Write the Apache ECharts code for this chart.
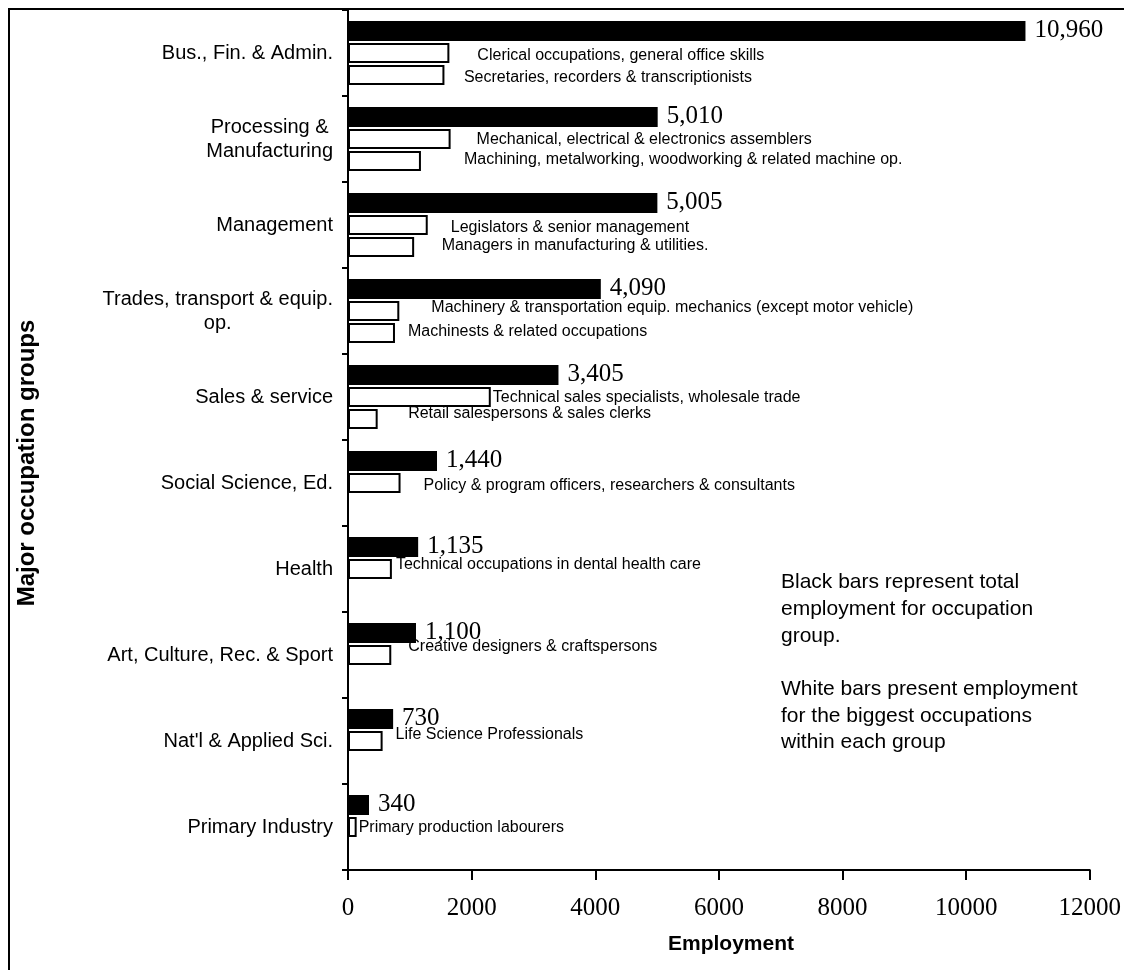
<!DOCTYPE html>
<html>
<head>
<meta charset="utf-8">
<title>Employment by major occupation group</title>
<script src="https://cdn.jsdelivr.net/npm/echarts@6/dist/echarts.min.js"></script>
<style>
  html, body { margin: 0; padding: 0; background: #fff; }
  #chart { width: 1124px; height: 970px; }
</style>
</head>
<body>
<div id="chart"></div>
<script>
// Major occupation groups (top to bottom)
const groups = [
  'Bus., Fin. & Admin.',
  'Processing &\nManufacturing',
  'Management',
  'Trades, transport & equip.\nop.',
  'Sales & service',
  'Social Science, Ed.',
  'Health',
  'Art, Culture, Rec. & Sport',
  "Nat'l & Applied Sci.",
  'Primary Industry'
];

// Total employment per group (black bars)
const groupTotals = [10960, 5010, 5005, 4090, 3405, 1440, 1135, 1100, 730, 340];

// Biggest occupation within each group (first white bar)
const firstJobs = [
  'Clerical occupations, general office skills',
  'Mechanical, electrical & electronics assemblers',
  'Legislators & senior management',
  'Machinery & transportation equip. mechanics (except motor vehicle)',
  'Technical sales specialists, wholesale trade',
  'Policy & program officers, researchers & consultants',
  'Technical occupations in dental health care',
  'Creative designers & craftspersons',
  'Life Science Professionals',
  'Primary production labourers'
];
const firstJobValues = [1640, 1660, 1290, 830, 2310, 850, 710, 700, 560, 140];

// Second biggest occupation (second white bar), only for the larger groups
const secondJobs = [
  'Secretaries, recorders & transcriptionists',
  'Machining, metalworking, woodworking & related machine op.',
  'Managers in manufacturing & utilities.',
  'Machinests & related occupations',
  'Retail salespersons & sales clerks',
  null, null, null, null, null
];
const secondJobValues = [1560, 1180, 1070, 760, 480, null, null, null, null, null];

// X axis scale
const xMin = 0, xMax = 12000, xStep = 2000;

// Hand-placed nudges [dx, dy] for the occupation name labels
const firstLabelNudge = [[28, 2.5], [26, 1], [23, 3], [32, -3], [2, 0.5], [23, 2.3], [4, -4.3], [17, -8.7], [13, -6.3], [2, 1]];
const secondLabelNudge = [[19.5, 2.5], [43, -1], [27.5, -1.7], [13, -1], [30.5, -5.7]];

const SANS = 'Arial, "Liberation Sans", sans-serif';
const SERIF = '"Times New Roman", "Liberation Serif", serif';

function jobData(values, nudges) {
  return values.map((v, i) => v == null ? '-' : ({
    value: v,
    label: { offset: nudges[i] || [0, 0] }
  }));
}

const jobLabel = (names) => ({
  show: true,
  position: 'right',
  distance: 0,
  fontFamily: SANS,
  fontSize: 16,
  color: '#000',
  formatter: p => names[p.dataIndex] || ''
});

const whiteBar = {
  color: '#fff',
  borderColor: '#000',
  borderWidth: 2
};

const chart = echarts.init(document.getElementById('chart'), null, { renderer: 'canvas' });

chart.setOption({
  animation: false,
  backgroundColor: '#fff',
  grid: { left: 348, right: 34, top: 10, bottom: 100 },
  xAxis: {
    type: 'value',
    min: xMin,
    max: xMax,
    interval: xStep,
    axisLine: { show: true, lineStyle: { color: '#000', width: 2 } },
    axisTick: { show: true, length: 10, lineStyle: { color: '#000', width: 2 } },
    splitLine: { show: false },
    axisLabel: {
      fontFamily: SERIF,
      fontSize: 25,
      color: '#000',
      margin: 26,
      formatter: v => String(v)
    }
  },
  yAxis: {
    type: 'category',
    data: groups,
    inverse: true,
    axisLine: { show: true, lineStyle: { color: '#000', width: 2 } },
    axisTick: { show: true, length: 6, lineStyle: { color: '#000', width: 2 } },
    axisLabel: {
      margin: 15,
      align: 'right',
      formatter: v => v.split('\n').map(s => '{c|' + s + '}').join('\n'),
      rich: {
        c: { align: 'center', fontFamily: SANS, fontSize: 20, lineHeight: 24, color: '#000' }
      }
    }
  },
  series: [
    {
      name: 'Total',
      type: 'bar',
      data: groupTotals,
      barWidth: 20,
      barGap: '10%',
      itemStyle: { color: '#000' },
      label: {
        show: true,
        position: 'right',
        distance: 9,
        offset: [0, -1],
        fontFamily: SERIF,
        fontSize: 25,
        color: '#000',
        formatter: p => p.value.toLocaleString('en-US')
      },
      z: 3
    },
    {
      name: 'Biggest occupation',
      type: 'bar',
      data: jobData(firstJobValues, firstLabelNudge),
      barWidth: 20,
      barGap: '10%',
      itemStyle: whiteBar,
      label: jobLabel(firstJobs)
    },
    {
      name: 'Second occupation',
      type: 'bar',
      data: jobData(secondJobValues, secondLabelNudge),
      barWidth: 20,
      barGap: '10%',
      itemStyle: whiteBar,
      label: jobLabel(secondJobs)
    }
  ],
  graphic: [
    {
      type: 'rect',
      z: 100,
      silent: true,
      shape: { x: 9, y: 9, width: 1400, height: 1200 },
      style: { fill: 'none', stroke: '#000', lineWidth: 2 }
    },
    {
      type: 'text',
      x: 27.5,
      y: 463,
      rotation: Math.PI / 2,
      style: {
        text: 'Major occupation groups',
        font: 'bold 24px ' + SANS,
        fill: '#000',
        align: 'center',
        verticalAlign: 'middle'
      }
    },
    {
      type: 'text',
      x: 731,
      y: 944,
      style: {
        text: 'Employment',
        font: 'bold 21px ' + SANS,
        fill: '#000',
        align: 'center',
        verticalAlign: 'middle'
      }
    },
    {
      type: 'text',
      x: 781,
      y: 569,
      style: {
        text: 'Black bars represent total\nemployment for occupation\ngroup.\n\nWhite bars present employment\nfor the biggest occupations\nwithin each group',
        font: '21px ' + SANS,
        lineHeight: 26.7,
        fill: '#000',
        align: 'left',
        verticalAlign: 'top'
      }
    }
  ]
});
</script>
</body>
</html>
